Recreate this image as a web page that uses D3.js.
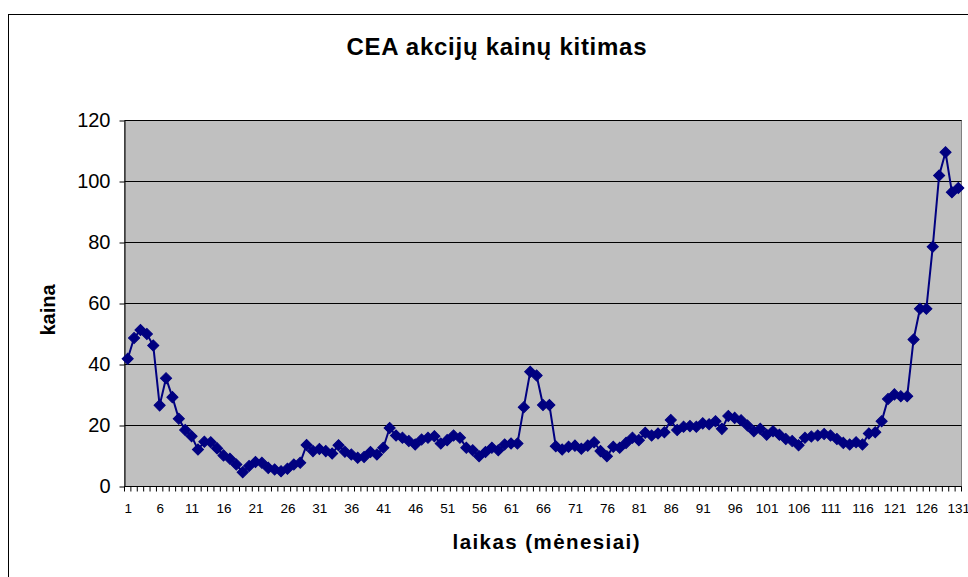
<!DOCTYPE html>
<html>
<head>
<meta charset="utf-8">
<script src="https://cdn.jsdelivr.net/npm/d3@7"></script>
<style>
  body { margin: 0; background: #fff; }
  svg { display: block; font-family: "Liberation Sans", Arial, sans-serif; }
  .grid line { stroke: #000; stroke-width: 1; }
</style>
</head>
<body>
<svg id="chart" width="968" height="577"></svg>
<script>
// month numbers 1..131 and CEA share price
const months = [
  1, 2, 3, 4, 5, 6, 7, 8, 9, 10, 11, 12, 13, 14, 15, 16, 17, 18, 19, 20,
  21, 22, 23, 24, 25, 26, 27, 28, 29, 30, 31, 32, 33, 34, 35, 36, 37, 38, 39, 40,
  41, 42, 43, 44, 45, 46, 47, 48, 49, 50, 51, 52, 53, 54, 55, 56, 57, 58, 59, 60,
  61, 62, 63, 64, 65, 66, 67, 68, 69, 70, 71, 72, 73, 74, 75, 76, 77, 78, 79, 80,
  81, 82, 83, 84, 85, 86, 87, 88, 89, 90, 91, 92, 93, 94, 95, 96, 97, 98, 99, 100,
  101, 102, 103, 104, 105, 106, 107, 108, 109, 110, 111, 112, 113, 114, 115, 116, 117, 118, 119, 120,
  121, 122, 123, 124, 125, 126, 127, 128, 129, 130, 131
];

const prices = [
  41.9, 48.7, 51.3, 50.0, 46.2, 26.6, 35.5, 29.3, 22.2, 18.5,
  16.5, 12.1, 14.7, 14.5, 12.5, 10.2, 9.1, 7.2, 4.7, 6.7,
  8.0, 7.8, 6.1, 5.6, 5.0, 5.8, 7.2, 7.8, 13.6, 11.6,
  12.3, 11.6, 10.8, 13.5, 11.4, 10.5, 9.4, 9.7, 11.3, 10.5,
  12.7, 19.2, 16.7, 16.0, 14.9, 13.8, 15.4, 16.0, 16.5, 14.1,
  15.2, 16.7, 16.0, 12.7, 11.9, 9.9, 11.3, 12.7, 11.9, 13.8,
  14.1, 14.1, 26.0, 37.6, 36.4, 26.7, 26.7, 13.2, 12.1, 13.0,
  13.4, 12.4, 13.4, 14.5, 11.6, 9.9, 13.0, 12.7, 14.3, 16.0,
  15.2, 17.6, 16.7, 17.4, 17.8, 21.8, 18.5, 19.6, 19.8, 19.6,
  20.7, 20.4, 21.4, 18.9, 23.1, 22.5, 21.7, 20.0, 18.1, 18.9,
  17.0, 18.1, 17.0, 15.6, 14.9, 13.5, 16.0, 16.4, 16.7, 17.2,
  16.7, 15.6, 14.3, 13.8, 14.5, 13.8, 17.4, 17.8, 21.4, 28.7,
  30.2, 29.6, 29.6, 48.2, 58.3, 58.3, 78.6, 102.0, 109.6, 96.5,
  97.9
];

const yTicks = [0, 20, 40, 60, 80, 100, 120];
const xLabelEvery = 5;

const title = "CEA akcijų kainų kitimas";
const xTitle = "laikas (mėnesiai)";
const yTitle = "kaina";

const plot = { left: 124.5, right: 961.5, top: 120.5, bottom: 486.5 };

const svg = d3.select("#chart");

// outer chart frame (runs off the right/bottom of the picture)
svg.append("rect")
  .attr("x", 8.5).attr("y", 14.5)
  .attr("width", 1000).attr("height", 1000)
  .attr("fill", "#fff").attr("stroke", "#000");

const x = d3.scaleBand()
  .domain(months)
  .range([plot.left, plot.right])
  .paddingInner(0).paddingOuter(0);

const y = d3.scaleLinear()
  .domain([0, 120])
  .range([plot.bottom, plot.top]);

// plot area
svg.append("rect")
  .attr("x", plot.left).attr("y", plot.top)
  .attr("width", plot.right - plot.left)
  .attr("height", plot.bottom - plot.top)
  .attr("fill", "#c0c0c0")
  .attr("stroke", "#808080");

svg.append("g")
  .attr("class", "grid")
  .selectAll("line")
  .data(yTicks.filter((d) => d > 0))
  .join("line")
  .attr("x1", plot.left).attr("x2", plot.right)
  .attr("y1", (d) => y(d)).attr("y2", (d) => y(d));

// y axis
const yAxis = svg.append("g")
  .attr("transform", `translate(${plot.left},0)`)
  .call(d3.axisLeft(y).tickValues(yTicks).tickSize(5).tickPadding(9).tickSizeOuter(0));
yAxis.select(".domain").attr("stroke", "#000");
yAxis.selectAll(".tick line").attr("stroke", "#000");
yAxis.selectAll("text")
  .attr("font-size", 20)
  .attr("font-family", "Liberation Sans, Arial, sans-serif")
  .attr("fill", "#000");

// x axis: ticks between categories, labels every 5th month
const step = x.step();
const boundaries = months.map((m) => x(m)).concat([x(months[months.length - 1]) + step]);

const xAxis = svg.append("g");
xAxis.append("line")
  .attr("x1", plot.left).attr("x2", plot.right)
  .attr("y1", plot.bottom).attr("y2", plot.bottom)
  .attr("stroke", "#000");
xAxis.selectAll("line.tk")
  .data(boundaries)
  .join("line")
  .attr("class", "tk")
  .attr("x1", (d) => d).attr("x2", (d) => d)
  .attr("y1", plot.bottom).attr("y2", plot.bottom + 5)
  .attr("stroke", "#000");
xAxis.selectAll("text")
  .data(months.filter((m) => (m - 1) % xLabelEvery === 0))
  .join("text")
  .attr("x", (d) => x(d) + step / 2 + 0.5)
  .attr("y", 512.5)
  .attr("text-anchor", "middle")
  .attr("font-size", 13.5)
  .attr("fill", "#000")
  .text((d) => d);

// series
const line = d3.line()
  .x((d, i) => x(months[i]) + step / 2)
  .y((d) => y(d));

svg.append("path")
  .datum(prices)
  .attr("d", line)
  .attr("fill", "none")
  .attr("stroke", "#000080")
  .attr("stroke-width", 2);

const diamond = d3.symbol().type(d3.symbolSquare).size(62);
svg.append("g")
  .selectAll("path")
  .data(prices)
  .join("path")
  .attr("d", diamond)
  .attr("transform", (d, i) => `translate(${x(months[i]) + step / 2},${y(d)}) rotate(45)`)
  .attr("fill", "#000080")
  .attr("stroke", "#000080")
  .attr("stroke-width", 1);

// titles
svg.append("text")
  .attr("x", 496.5).attr("y", 55)
  .attr("text-anchor", "middle")
  .attr("font-size", 24)
  .attr("font-weight", "bold")
  .attr("textLength", 300)
  .attr("lengthAdjust", "spacing")
  .text(title);

svg.append("text")
  .attr("x", 546).attr("y", 549)
  .attr("text-anchor", "middle")
  .attr("font-size", 20.5)
  .attr("font-weight", "bold")
  .attr("textLength", 187)
  .attr("lengthAdjust", "spacing")
  .text(xTitle);

svg.append("text")
  .attr("transform", "translate(55,310) rotate(-90)")
  .attr("text-anchor", "middle")
  .attr("font-size", 20)
  .attr("font-weight", "bold")
  .text(yTitle);
</script>
</body>
</html>
